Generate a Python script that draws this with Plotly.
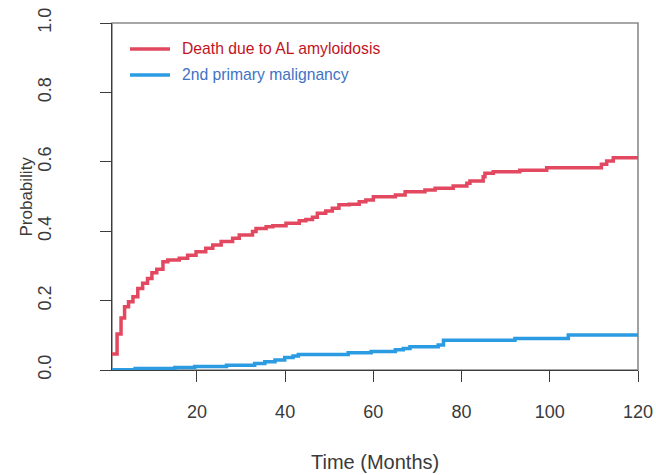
import plotly.graph_objects as go

# ---- data ----
red_name = "Death due to AL amyloidosis"
blue_name = "2nd primary malignancy"

red_t = [0.75, 1.9, 2.8, 3.6, 4.5, 5.5, 6.6, 7.7, 8.8, 9.8, 10.9, 12.3, 13.4, 16.0, 17.9,
         19.8, 22.0, 23.6, 25.5, 28.1, 29.6, 32.6, 33.4, 35.7, 37.2, 40.2, 43.2, 44.7,
         46.2, 47.3, 49.2, 50.7, 52.2, 54.5, 56.8, 58.3, 60.0, 65.0, 67.2, 71.7, 74.0,
         78.1, 81.2, 81.9, 84.9, 85.3, 87.2, 93.2, 99.3, 111.7, 112.9, 114.4, 120.0]
red_p = [0.046, 0.104, 0.150, 0.182, 0.197, 0.211, 0.235, 0.250, 0.264, 0.280, 0.290,
         0.312, 0.317, 0.322, 0.331, 0.341, 0.351, 0.360, 0.370, 0.380, 0.389, 0.399,
         0.408, 0.413, 0.416, 0.423, 0.430, 0.434, 0.440, 0.452, 0.458, 0.466, 0.476,
         0.478, 0.485, 0.490, 0.499, 0.504, 0.514, 0.519, 0.524, 0.530, 0.538, 0.545,
         0.557, 0.567, 0.571, 0.576, 0.583, 0.593, 0.602, 0.612, 0.612]

blue_t = [0.75, 6.0, 15.0, 19.5, 26.7, 33.1, 35.4, 37.7, 39.9, 41.8, 43.0, 54.3, 59.5,
          65.0, 66.8, 68.3, 74.7, 75.9, 92.1, 104.2, 120.0]
blue_p = [0.001, 0.004, 0.007, 0.010, 0.014, 0.019, 0.024, 0.029, 0.036, 0.040, 0.045,
          0.050, 0.053, 0.058, 0.062, 0.067, 0.072, 0.086, 0.091, 0.101, 0.101]

x_ticks = [20, 40, 60, 80, 100, 120]
y_ticks = [0.0, 0.2, 0.4, 0.6, 0.8, 1.0]
x_title = "Time (Months)"
y_title = "Probability"

# ---- style ----
RED = "#E2485F"
BLUE = "#2B9BE2"
RED_TXT = "#C0141E"
BLUE_TXT = "#3F72C4"
FONT = "Liberation Sans, Arial, sans-serif"
W, H = 656, 475
# plot area in page pixels: x 112..638, y 23..370
PX0, PX1, PY0, PY1 = 112, 638, 23, 370
L, T = PX0, PY0
R, B = W - PX1, H - PY1
PW, PH = PX1 - PX0, PY1 - PY0


def px(x):
    return (x - PX0) / PW


def py(y):
    return (PY1 - y) / PH


fig = go.Figure()
fig.add_trace(go.Scatter(x=red_t, y=red_p, mode="lines", line_shape="hv",
                         line=dict(color=RED, width=3.5), name=red_name,
                         showlegend=False))
fig.add_trace(go.Scatter(x=blue_t, y=blue_p, mode="lines", line_shape="hv",
                         line=dict(color=BLUE, width=3.5), name=blue_name,
                         showlegend=False))

axis_common = dict(showgrid=False, zeroline=False, showline=True, linecolor="#3c3c3c",
                   linewidth=1.3, ticks="outside", ticklen=11, tickwidth=1.3,
                   tickcolor="#3c3c3c", ticklabeloverflow="allow",
                   tickfont=dict(family=FONT, size=18, color="#3a3a3a"))

fig.update_xaxes(range=[0.75, 120], tickvals=x_ticks, ticktext=[str(v) for v in x_ticks],
                 ticklabelstandoff=14, **axis_common)
fig.update_yaxes(range=[0, 1], tickvals=y_ticks, tickformat=".1f", tickangle=-90,
                 ticklabelstandoff=42, **axis_common)

shapes = [
    dict(type="rect", xref="paper", yref="paper", x0=0, x1=1, y0=0, y1=1,
         line=dict(color="#8a8a8a", width=1.6), layer="below"),
    dict(type="line", xref="paper", yref="paper", x0=px(130), x1=px(170),
         y0=py(49), y1=py(49), line=dict(color=RED, width=3.5)),
    dict(type="line", xref="paper", yref="paper", x0=px(130), x1=px(170),
         y0=py(75), y1=py(75), line=dict(color=BLUE, width=3.5)),
]

annotations = [
    dict(text=red_name, xref="paper", yref="paper", x=px(180), y=py(49),
         xanchor="left", yanchor="middle", showarrow=False,
         font=dict(family=FONT, size=15.7, color=RED_TXT)),
    dict(text=blue_name, xref="paper", yref="paper", x=px(180), y=py(75),
         xanchor="left", yanchor="middle", showarrow=False,
         font=dict(family=FONT, size=15.7, color=BLUE_TXT)),
    dict(text=x_title, xref="paper", yref="paper", x=0.5, y=py(462),
         xanchor="center", yanchor="middle", showarrow=False,
         font=dict(family=FONT, size=20, color="#3a3a3a")),
    dict(text=y_title, xref="paper", yref="paper", x=px(26), y=0.5, textangle=-90,
         xanchor="center", yanchor="middle", showarrow=False,
         font=dict(family=FONT, size=17, color="#3a3a3a")),
]

fig.update_layout(width=W, height=H, margin=dict(l=L, r=R, t=T, b=B, autoexpand=False),
                  paper_bgcolor="white", plot_bgcolor="white",
                  shapes=shapes, annotations=annotations)

fig.write_html("out.html", config={"displayModeBar": False},
               post_script="document.body.style.margin='0';"
                           "document.body.style.overflow='hidden';")
